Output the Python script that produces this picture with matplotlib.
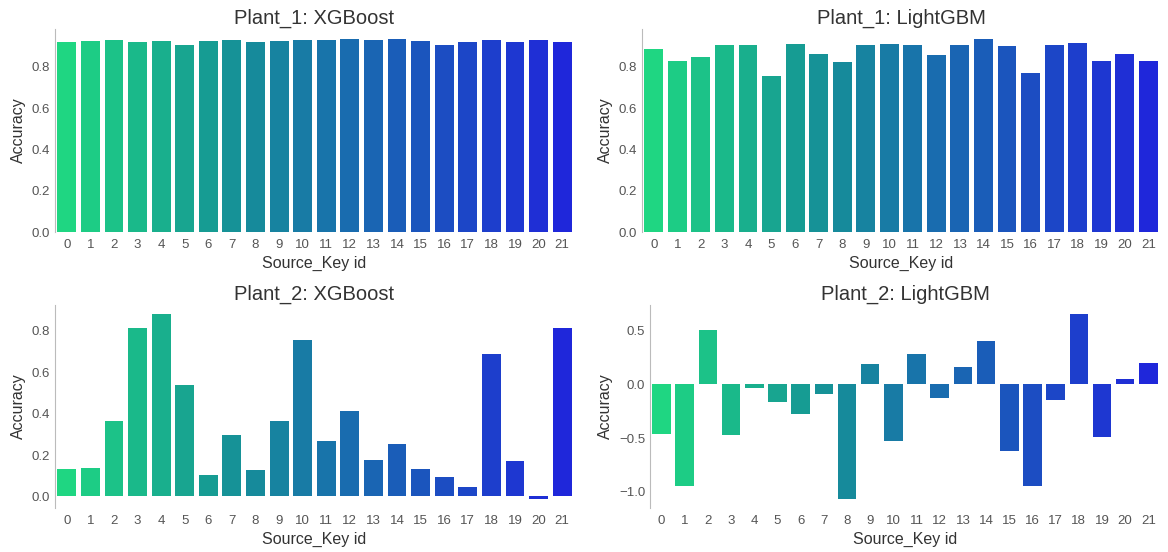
import matplotlib
matplotlib.use('Agg')
import matplotlib.pyplot as plt
import seaborn as sns
import numpy as np

# ids das Source_Key
source_ids = list(range(22))

# acuracia por modelo / planta
p1_xgb = [0.922, 0.924, 0.930, 0.922, 0.924, 0.907, 0.924, 0.930, 0.922, 0.924, 0.930,
          0.930, 0.937, 0.930, 0.937, 0.924, 0.904, 0.922, 0.930, 0.922, 0.930, 0.922]
p1_lgbm = [0.886, 0.829, 0.849, 0.906, 0.906, 0.754, 0.912, 0.862, 0.824, 0.906, 0.912,
           0.906, 0.857, 0.906, 0.937, 0.902, 0.772, 0.906, 0.917, 0.829, 0.862, 0.829]
p2_xgb = [0.131, 0.139, 0.365, 0.813, 0.880, 0.540, 0.102, 0.296, 0.128, 0.365, 0.756,
          0.270, 0.414, 0.176, 0.252, 0.134, 0.095, 0.048, 0.687, 0.171, -0.011, 0.814]
p2_lgbm = [-0.460, -0.949, 0.502, -0.476, -0.035, -0.168, -0.276, -0.092, -1.063, 0.184, -0.530,
           0.283, -0.127, 0.156, 0.403, -0.619, -0.943, -0.143, 0.648, -0.486, 0.048, 0.197]

titles = ['Plant_1: XGBoost', 'Plant_1: LightGBM', 'Plant_2: XGBoost', 'Plant_2: LightGBM']
series = [p1_xgb, p1_lgbm, p2_xgb, p2_lgbm]

plt.rcParams['font.family'] = ['Liberation Sans', 'DejaVu Sans']

# paleta winter_r dessaturada igual ao barplot do seaborn
colors = [sns.desaturate(c, 0.75) for c in sns.color_palette('winter_r', len(source_ids))]

fig, axs = plt.subplots(2, 2, figsize=(11.68, 5.52), dpi=100)
axs = axs.flatten()

# posicoes dos eixos (fracao da figura)
positions = [[0.0471, 0.5797, 0.4443, 0.3678],
             [0.5497, 0.5797, 0.4435, 0.3678],
             [0.0471, 0.0797, 0.4443, 0.3678],
             [0.5565, 0.0797, 0.4366, 0.3678]]

for i in range(4):
    ax = axs[i]
    ax.set_position(positions[i])
    ax.bar(source_ids, series[i], 0.8, color=colors)
    ax.set_xlim(-0.5, len(source_ids) - 0.5)
    ax.set_xticks(source_ids)
    ax.set_xticklabels([str(s) for s in source_ids])
    ax.set_title(titles[i], fontsize=14.5, color='#333333', pad=4)
    ax.set_xlabel('Source_Key id', fontsize=11.5, color='#333333', labelpad=3.5)
    ax.set_ylabel('Accuracy', fontsize=11.5, color='#333333')
    ax.tick_params(axis='both', length=0, labelsize=9.5, labelcolor='#555555')
    ax.tick_params(axis='x', pad=5)
    for s in ['top', 'right', 'bottom']:
        ax.spines[s].set_visible(False)
    ax.spines['left'].set_color('#bbbbbb')
    ax.grid(False)

fig.savefig('out.png', dpi=100)
